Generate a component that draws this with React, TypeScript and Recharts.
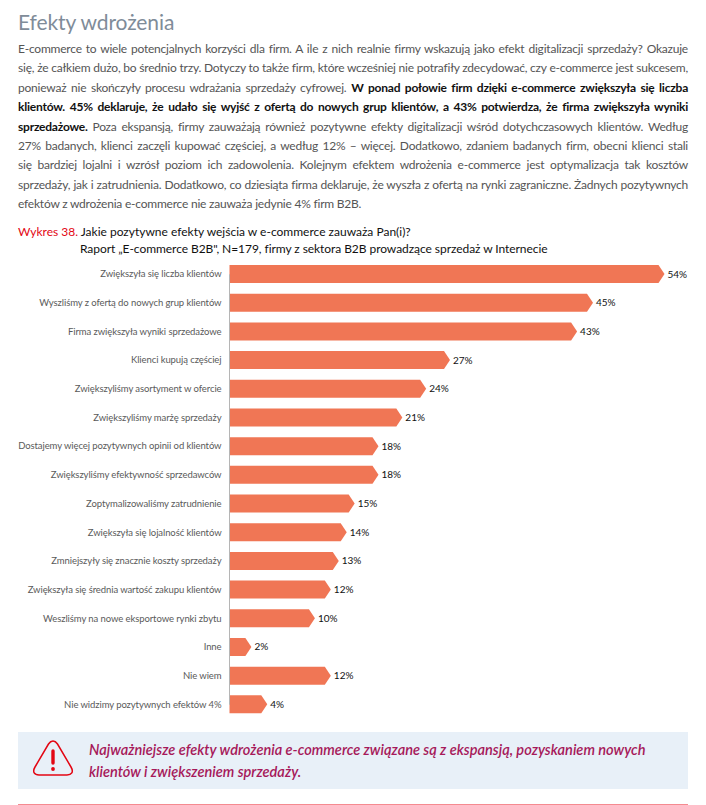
import React from 'react'
import { BarChart, Bar, XAxis, YAxis, LabelList, ReferenceLine } from 'recharts'

const categories = [
  'Zwiększyła się liczba klientów',
  'Wyszliśmy z ofertą do nowych grup klientów',
  'Firma zwiększyła wyniki sprzedażowe',
  'Klienci kupują częściej',
  'Zwiększyliśmy asortyment w ofercie',
  'Zwiększyliśmy marżę sprzedaży',
  'Dostajemy więcej pozytywnych opinii od klientów',
  'Zwiększyliśmy efektywność sprzedawców',
  'Zoptymalizowaliśmy zatrudnienie',
  'Zwiększyła się lojalność klientów',
  'Zmniejszyły się znacznie koszty sprzedaży',
  'Zwiększyła się średnia wartość zakupu klientów',
  'Weszliśmy na nowe eksportowe rynki zbytu',
  'Inne',
  'Nie wiem',
  'Nie widzimy pozytywnych efektów 4%',
]
const values = [54, 45, 43, 27, 24, 21, 18, 18, 15, 14, 13, 12, 10, 2, 12, 4]

const chartData = categories.map((name, i) => ({ name, value: values[i] }))

const FONT = 'Lato, "Open Sans", sans-serif'

const introLines = [
  [['E-commerce to wiele potencjalnych korzyści dla firm. A ile z nich realnie firmy wskazują jako efekt digitalizacji sprzedaży? Okazuje', false]],
  [['się, że całkiem dużo, bo średnio trzy. Dotyczy to także firm, które wcześniej nie potrafiły zdecydować, czy e-commerce jest sukcesem,', false]],
  [['ponieważ nie skończyły procesu wdrażania sprzedaży cyfrowej. ', false], ['W ponad połowie firm dzięki e-commerce zwiększyła się liczba', true]],
  [['klientów. 45% deklaruje, że udało się wyjść z ofertą do nowych grup klientów, a 43% potwierdza, że firma zwiększyła wyniki', true]],
  [['sprzedażowe.', true], [' Poza ekspansją, firmy zauważają również pozytywne efekty digitalizacji wśród dotychczasowych klientów. Według', false]],
  [['27% badanych, klienci zaczęli kupować częściej, a według 12% – więcej. Dodatkowo, zdaniem badanych firm, obecni klienci stali', false]],
  [['się bardziej lojalni i wzrósł poziom ich zadowolenia. Kolejnym efektem wdrożenia e-commerce jest optymalizacja tak kosztów', false]],
  [['sprzedaży, jak i zatrudnienia. Dodatkowo, co dziesiąta firma deklaruje, że wyszła z ofertą na rynki zagraniczne. Żadnych pozytywnych', false]],
  [['efektów z wdrożenia e-commerce nie zauważa jedynie 4% firm B2B.', false]],
] as [string, boolean][][]

// bar with the small arrow tip on the right end
const ArrowBar = (props: any) => {
  const { x, y, width, height, fill } = props
  const tip = 6
  const d = `M${x},${y}H${x + width}L${x + width + tip},${y + height / 2}L${x + width},${y + height}H${x}Z`
  return <path d={d} fill={fill} />
}

// one-line category label, the default tick wraps them
const CategoryTick = (props: any) => {
  const { x, y, payload } = props
  return (
    <text x={x} y={y} dy={3} textAnchor="end" fontSize={9.5} letterSpacing={-0.09} fill="#5a5a5a" fontFamily={FONT}>
      {payload.value}
    </text>
  )
}

const App = () => {
  return (
    <div style={{ position: 'absolute', left: 0, top: 0, width: 706, height: 805, fontFamily: FONT, overflow: 'hidden', background: '#fff' }}>
      <div style={{ position: 'absolute', left: 18, top: 8, fontSize: 21, lineHeight: '28px', color: '#7f8c99', letterSpacing: -0.1 }}>Efekty wdrożenia</div>

      <div style={{ position: 'absolute', left: 18, top: 39, width: 670, fontSize: 12, letterSpacing: -0.22, lineHeight: '19.4px', color: '#555' }}>
        {introLines.map((line, i) => (
          <div key={i} style={{ textAlign: i < introLines.length - 1 ? 'justify' : 'left', textAlignLast: i < introLines.length - 1 ? 'justify' : 'left', whiteSpace: 'nowrap' }}>
            {line.map(([t, bold], j) => (
              <span key={j} style={bold ? { fontWeight: 700, color: '#111' } : undefined}>{t}</span>
            ))}
          </div>
        ))}
      </div>

      <div style={{ position: 'absolute', left: 18, top: 223, fontSize: 12, lineHeight: '17px', color: '#111', whiteSpace: 'nowrap' }}>
        <span style={{ color: '#e30613' }}>Wykres 38.</span> Jakie pozytywne efekty wejścia w e-commerce zauważa Pan(i)?
      </div>
      <div style={{ position: 'absolute', left: 80, top: 240, fontSize: 12, letterSpacing: -0.06, lineHeight: '17px', color: '#111', whiteSpace: 'nowrap' }}>
        Raport „E-commerce B2B", N=179, firmy z sektora B2B prowadzące sprzedaż w Internecie
      </div>

      <div style={{ position: 'absolute', left: 0, top: 260 }}>
        <BarChart
          width={706}
          height={459}
          layout="vertical"
          data={chartData}
          margin={{ top: 0, right: 47.5, bottom: 0, left: 0 }}
          barCategoryGap={10}
        >
          <XAxis type="number" domain={[0, 54]} hide />
          <YAxis
            type="category"
            dataKey="name"
            width={229.5}
            interval={0}
            axisLine={false}
            tickLine={false}
            tickMargin={2}
            tick={<CategoryTick />}
          />
          <ReferenceLine
            segment={[
              { x: 0, y: categories[0] },
              { x: 0, y: categories[categories.length - 1] },
            ]}
            stroke="#b5b5b5"
          />
          <Bar dataKey="value" fill="#f07655" barSize={18} isAnimationActive={false} shape={<ArrowBar />}>
            <LabelList
              dataKey="value"
              position="right"
              offset={9}
              formatter={(v: any) => `${v}%`}
              style={{ fontSize: 10, fill: '#111', fontFamily: FONT }}
            />
          </Bar>
        </BarChart>
      </div>

      <div style={{ position: 'absolute', left: 18, top: 732, width: 670, height: 57, background: '#e8f0f8' }} />
      <svg style={{ position: 'absolute', left: 32, top: 738 }} width={42} height={40} viewBox="0 0 42 40">
        <path d="M21 3 C18.5 3 17.5 4.5 16.5 6 L3 29 C0 34 2.5 37 7 37 L35 37 C39.5 37 42 34 39 29 L25.5 6 C24.5 4.5 23.5 3 21 3 Z" fill="none" stroke="#e30613" strokeWidth={1.5} />
        <path d="M21 13 L21 25" stroke="#e30613" strokeWidth={3.4} strokeLinecap="round" />
        <circle cx={21} cy={31} r={1.9} fill="#e30613" />
      </svg>
      <div style={{ position: 'absolute', left: 89, top: 739, fontSize: 14.6, lineHeight: '22px', fontStyle: 'italic', fontWeight: 600, color: '#a6195a', whiteSpace: 'nowrap' }}>
        <div>Najważniejsze efekty wdrożenia e-commerce związane są z ekspansją, pozyskaniem nowych</div>
        <div>klientów i zwiększeniem sprzedaży.</div>
      </div>
      <div style={{ position: 'absolute', left: 18, top: 804, width: 670, height: 1, background: '#f58a90' }} />
    </div>
  )
}

export default App
